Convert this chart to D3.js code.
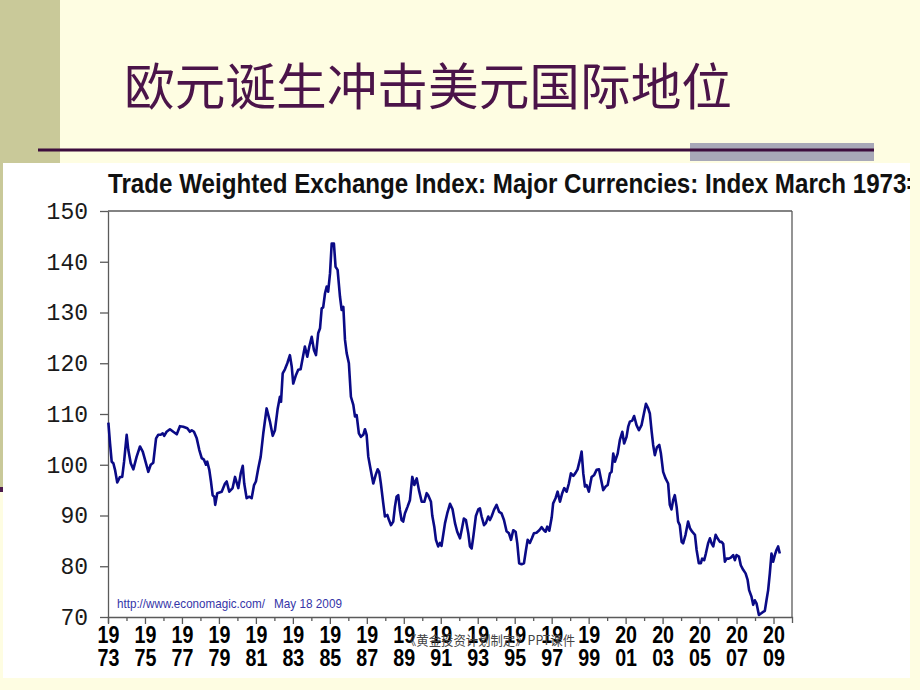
<!DOCTYPE html>
<html>
<head>
<meta charset="utf-8">
<script src="https://cdn.jsdelivr.net/npm/d3@7"></script>
<style>
  body { margin: 0; background: #fefde2; }
  svg { display: block; }
</style>
</head>
<body>
<div id="chart"></div>
<script>
// decimal year of each point
const years = [
  1973.02,1973.11,1973.20,1973.29,1973.38,1973.50,1973.65,1973.77,1973.87,
  1974.01,1974.10,1974.23,1974.37,1974.55,1974.73,1974.88,
  1975.00,1975.18,1975.31,1975.45,1975.60,1975.72,1975.85,1975.96,
  1976.04,1976.17,1976.35,1976.53,1976.72,1976.89,
  1977.07,1977.29,1977.43,1977.53,1977.65,1977.80,1977.94,
  1978.07,1978.19,1978.30,1978.37,1978.48,1978.57,1978.66,1978.75,1978.80,1978.91,
  1979.15,1979.33,1979.42,1979.56,1979.74,1979.87,
  1980.05,1980.18,1980.29,1980.37,1980.50,1980.64,1980.77,1980.90,
  1981.00,1981.13,1981.26,1981.40,1981.58,1981.76,1981.91,
  1982.03,1982.18,1982.30,1982.36,1982.45,1982.57,1982.70,1982.84,1982.94,
  1983.02,1983.17,1983.29,1983.42,1983.53,1983.65,1983.78,1983.89,
  1984.02,1984.14,1984.25,1984.37,1984.47,1984.56,1984.64,1984.74,1984.83,1984.91,
  1985.01,1985.10,1985.22,1985.31,1985.42,1985.55,1985.64,1985.73,1985.82,1985.91,
  1986.03,1986.14,1986.27,1986.36,1986.45,1986.57,1986.68,1986.81,1986.90,1986.99,
  1987.08,1987.21,1987.35,1987.48,1987.59,1987.67,1987.76,1987.89,1987.98,
  1988.11,1988.20,1988.31,1988.43,1988.52,1988.61,1988.70,1988.79,1988.88,1988.97,
  1989.06,1989.20,1989.33,1989.46,1989.57,1989.70,1989.82,1989.97,
  1990.11,1990.24,1990.32,1990.47,1990.54,1990.65,1990.74,1990.86,1990.96,
  1991.04,1991.23,1991.35,1991.50,1991.64,1991.77,1991.89,
  1992.04,1992.15,1992.25,1992.36,1992.49,1992.58,1992.67,1992.76,1992.90,
  1993.03,1993.12,1993.21,1993.34,1993.44,1993.57,1993.66,1993.75,1993.88,
  1994.02,1994.16,1994.29,1994.42,1994.56,1994.69,1994.80,1994.92,
  1995.05,1995.14,1995.24,1995.37,1995.50,1995.61,1995.70,1995.82,1995.93,
  1996.04,1996.18,1996.33,1996.46,1996.58,1996.67,1996.76,1996.87,
  1997.00,1997.08,1997.21,1997.32,1997.45,1997.57,1997.68,1997.81,1997.93,
  1998.04,1998.17,1998.29,1998.40,1998.53,1998.62,1998.71,1998.80,1998.89,
  1999.01,1999.16,1999.30,1999.43,1999.56,1999.66,1999.79,1999.92,
  2000.03,2000.15,2000.24,2000.33,2000.42,2000.57,2000.69,2000.82,2000.92,
  2001.05,2001.14,2001.23,2001.36,2001.46,2001.59,2001.72,2001.86,2001.99,
  2002.10,2002.22,2002.31,2002.41,2002.49,2002.58,2002.69,2002.82,2002.91,
  2003.03,2003.16,2003.30,2003.39,2003.48,2003.57,2003.66,2003.76,2003.84,2003.93,
  2004.03,2004.11,2004.24,2004.38,2004.48,2004.60,2004.75,2004.84,2004.96,
  2005.07,2005.14,2005.25,2005.34,2005.46,2005.56,2005.65,2005.74,2005.87,2005.97,
  2006.10,2006.19,2006.28,2006.37,2006.46,2006.58,2006.69,2006.82,2006.91,
  2007.00,2007.13,2007.23,2007.36,2007.49,2007.60,2007.68,2007.81,2007.90,2007.99,
  2008.08,2008.21,2008.32,2008.44,2008.53,2008.62,2008.71,2008.80,2008.89,2008.98,
  2009.07,2009.16,2009.25,2009.34
];

const indexValues = [
  108.3,104.2,100.6,100.3,99.0,96.5,97.6,97.6,100.6,
  105.9,102.9,100.3,99.1,101.6,103.6,102.6,
  101.0,98.6,100.0,100.4,105.2,105.9,105.9,106.2,
  105.7,106.5,107.0,106.5,106.0,107.6,
  107.5,107.2,106.5,106.8,106.5,105.2,102.9,
  101.3,101.0,100.0,100.6,99.0,96.7,94.0,93.7,92.1,94.4,
  94.7,96.3,96.7,94.7,95.4,97.6,
  95.4,98.3,99.8,96.3,93.4,93.7,93.4,96.0,
  96.7,99.3,101.6,106.2,111.1,108.5,105.7,
  106.8,111.1,113.4,112.4,118.0,118.8,120.0,121.6,119.3,
  116.0,117.7,118.7,118.8,121.0,123.3,121.3,123.3,
  125.2,122.6,121.6,125.9,126.9,130.8,131.0,133.8,135.1,134.1,
  137.7,143.6,143.6,139.0,138.4,133.1,130.5,131.1,124.6,122.0,
  120.0,113.4,111.8,109.5,109.8,106.2,105.5,105.9,107.0,105.9,
  101.6,99.0,96.3,98.0,99.1,98.6,96.3,92.4,89.8,
  90.1,89.1,88.1,88.8,91.7,93.7,94.0,91.1,89.1,88.8,
  90.4,91.7,93.0,97.6,96.0,97.3,95.0,92.7,
  92.7,94.4,94.0,92.7,90.0,87.8,85.2,83.9,84.6,
  84.0,88.5,90.4,92.3,91.2,88.5,86.8,
  85.5,87.5,89.4,89.1,86.5,83.9,83.5,85.8,89.9,
  91.2,91.4,89.8,88.1,88.5,89.8,89.1,89.8,91.1,
  92.1,90.7,90.4,89.1,86.9,86.5,85.2,87.1,
  86.8,84.5,80.6,80.4,80.6,83.2,85.2,84.6,85.5,
  86.5,86.6,87.1,87.7,87.1,86.8,87.8,87.0,
  89.6,92.4,93.4,94.7,92.7,94.4,95.4,94.7,96.3,
  98.3,97.8,98.4,99.1,101.0,102.6,98.3,95.7,96.0,
  94.7,97.6,98.0,99.0,99.1,97.3,95.0,95.7,
  96.0,98.3,98.6,102.2,100.6,102.2,104.9,106.5,104.2,
  105.5,107.5,108.5,108.7,109.6,107.8,106.8,107.8,110.1,
  112.0,111.1,110.1,106.5,103.9,101.9,103.4,103.9,102.2,
  98.6,97.3,96.3,92.1,91.2,93.0,94.0,91.7,88.8,88.1,
  84.8,84.5,86.2,88.8,87.5,86.8,86.2,83.2,80.6,
  80.6,81.5,81.2,82.5,84.5,85.5,84.5,83.9,86.2,85.5,
  84.8,84.8,84.4,80.9,81.5,81.5,81.7,82.2,81.2,
  82.2,81.9,80.2,79.3,78.6,77.3,75.3,74.0,72.4,73.3,
  72.7,70.4,70.7,71.0,71.2,73.3,75.3,78.6,82.5,80.9,
  82.2,83.2,83.9,82.5
];

const yTicks = [70, 80, 90, 100, 110, 120, 130, 140, 150];
const labelYears = [1973, 1975, 1977, 1979, 1981, 1983, 1985, 1987, 1989, 1991,
  1993, 1995, 1997, 1999, 2001, 2003, 2005, 2007, 2009];
const minorYears = [1974, 1976, 1978, 1980, 1982, 1984, 1986, 1988, 1990, 1992,
  1994, 1996, 1998, 2000, 2002, 2004, 2006, 2008];

const slideTitle = "欧元诞生冲击美元国际地位";
const chartTitle = "Trade Weighted Exchange Index: Major Currencies: Index March 1973=100";
const sourceUrl = "http://www.economagic.com/";
const sourceDate = "May 18 2009";
const footer = "《黄金投资计划制定》PPT课件";

function drawSlide(svg) {
  svg.append("rect").attr("x", 0).attr("y", 0).attr("width", 60).attr("height", 490)
    .attr("fill", "#c9c999");
  svg.append("rect").attr("x", 0).attr("y", 487).attr("width", 60).attr("height", 5)
    .attr("fill", "#4b1a4b");

  svg.append("text")
    .attr("x", 124).attr("y", 105)
    .attr("font-family", "Noto Sans CJK SC")
    .attr("font-size", 50)
    .attr("textLength", 608)
    .attr("lengthAdjust", "spacingAndGlyphs")
    .attr("fill", "#4b1449")
    .text(slideTitle);

  svg.append("rect").attr("x", 690).attr("y", 143).attr("width", 184).attr("height", 18)
    .attr("fill", "#a8a8b8");
  svg.append("line").attr("x1", 38).attr("x2", 874).attr("y1", 150).attr("y2", 150)
    .attr("stroke", "#3d0d3d").attr("stroke-width", 3);
}

function drawChart(svg) {
  const left = 108, right = 792, top = 211, bottom = 617;

  svg.append("clipPath").attr("id", "imgclip")
    .append("rect").attr("x", 3).attr("y", 163).attr("width", 907).attr("height", 515);

  const img = svg.append("g").attr("clip-path", "url(#imgclip)");
  img.append("rect").attr("x", 3).attr("y", 163).attr("width", 907).attr("height", 515)
    .attr("fill", "#ffffff");

  const xScale = d3.scaleLinear().domain([1973, 2010]).range([left, right]);
  const yScale = d3.scaleLinear().domain([70, 150]).range([bottom, top]);

  // chart title, squeezed to look like a narrow bold face
  const title = img.append("text")
    .attr("font-family", "Liberation Sans, Arial, sans-serif")
    .attr("font-weight", "bold")
    .attr("font-size", 28)
    .attr("fill", "#111")
    .text(chartTitle);
  const prefixLen = chartTitle.indexOf("=");
  const w = title.node().getSubStringLength(0, prefixLen);
  title.attr("transform", `translate(${left},193) scale(${799 / w},1)`);

  const axisColor = "#5a5a5a";

  // frame top and right
  img.append("line").attr("x1", left).attr("x2", right).attr("y1", top).attr("y2", top)
    .attr("stroke", axisColor).attr("stroke-width", 1.3);
  img.append("line").attr("x1", right).attr("x2", right).attr("y1", top).attr("y2", bottom)
    .attr("stroke", axisColor).attr("stroke-width", 1.3);

  const yAxis = img.append("g")
    .attr("transform", `translate(${left},0)`)
    .call(d3.axisLeft(yScale).tickValues(yTicks).tickSize(8).tickSizeOuter(0).tickPadding(12));
  yAxis.selectAll("path, line").attr("stroke", axisColor).attr("stroke-width", 1.3);
  yAxis.selectAll("text")
    .attr("font-family", "Liberation Mono, Courier New, monospace")
    .attr("font-size", 23)
    .attr("fill", "#1a1a1a");

  const xMinor = img.append("g")
    .attr("transform", `translate(0,${bottom})`)
    .call(d3.axisBottom(xScale).tickValues(minorYears).tickSize(4).tickSizeOuter(0).tickFormat(""));
  xMinor.select(".domain").remove();
  xMinor.selectAll("line").attr("stroke", axisColor).attr("stroke-width", 1.3);

  const xAxis = img.append("g")
    .attr("transform", `translate(0,${bottom})`)
    .call(d3.axisBottom(xScale).tickValues(labelYears).tickSize(7).tickSizeOuter(6).tickFormat(""));
  xAxis.selectAll("path, line").attr("stroke", axisColor).attr("stroke-width", 1.3);
  xAxis.selectAll("text").remove();

  const lab = xAxis.selectAll(".tick")
    .append("text")
    .attr("transform", "translate(0,0) scale(0.82,1)")
    .attr("text-anchor", "middle")
    .attr("font-family", "Liberation Sans, Arial, sans-serif")
    .attr("font-weight", "bold")
    .attr("font-size", 24)
    .attr("fill", "#000");
  lab.append("tspan").attr("x", 0).attr("y", 26).text((d) => String(d).slice(0, 2));
  lab.append("tspan").attr("x", 0).attr("y", 49).text((d) => String(d).slice(2));

  const points = d3.zip(years, indexValues);
  const line = d3.line()
    .x((d) => xScale(d[0]))
    .y((d) => yScale(d[1]));

  img.append("path")
    .datum(points)
    .attr("fill", "none")
    .attr("stroke", "#0a0a86")
    .attr("stroke-width", 2.6)
    .attr("stroke-linejoin", "round")
    .attr("d", line);

  img.append("text")
    .attr("x", 117).attr("y", 608)
    .attr("font-family", "Liberation Sans, Arial, sans-serif")
    .attr("font-size", 13)
    .attr("fill", "#3535a8")
    .attr("textLength", 148).attr("lengthAdjust", "spacingAndGlyphs")
    .text(sourceUrl);
  img.append("text")
    .attr("x", 274).attr("y", 608)
    .attr("font-family", "Liberation Sans, Arial, sans-serif")
    .attr("font-size", 13)
    .attr("fill", "#3535a8")
    .attr("textLength", 68).attr("lengthAdjust", "spacingAndGlyphs")
    .text(sourceDate);
}

function draw() {
  const svg = d3.select("#chart")
    .append("svg")
    .attr("width", 920)
    .attr("height", 690);

  drawSlide(svg);
  drawChart(svg);

  svg.append("text")
    .attr("x", 404).attr("y", 645)
    .attr("font-family", "Noto Sans CJK SC")
    .attr("font-size", 13)
    .attr("fill", "#444")
    .attr("textLength", 171).attr("lengthAdjust", "spacingAndGlyphs")
    .text(footer);
}

document.addEventListener("DOMContentLoaded", draw);
</script>
</body>
</html>
